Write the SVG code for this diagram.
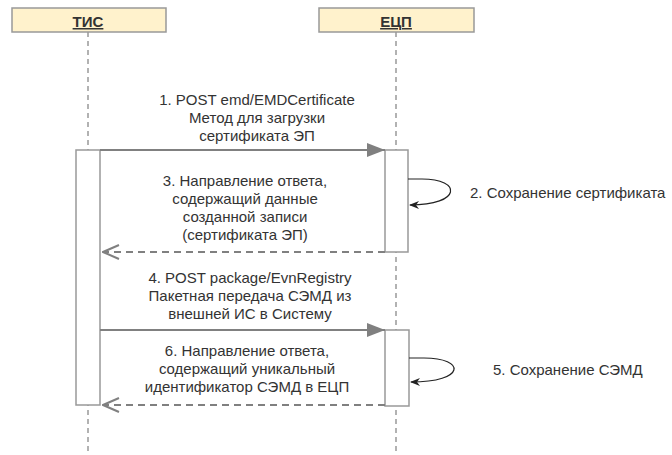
<svg xmlns="http://www.w3.org/2000/svg" width="672" height="455" viewBox="0 0 672 455">
<style>
.hdr{fill:#fff2cc;stroke:#999;stroke-width:1.5}
.htxt{font-family:"Liberation Sans",Arial,sans-serif;font-size:15px;font-weight:bold;fill:#333;text-anchor:middle;text-decoration:underline}
.life{stroke:#999;stroke-width:1.5;stroke-dasharray:5,4;fill:none}
.act{fill:#fff;stroke:#999;stroke-width:1.5}
.lbl{font-family:"Liberation Sans",Arial,sans-serif;font-size:15px;fill:#333;text-anchor:middle}
.lbl2{font-family:"Liberation Sans",Arial,sans-serif;font-size:15px;fill:#333}
.msg{stroke:#808080;stroke-width:2;fill:none}
.ret{stroke:#808080;stroke-width:2;fill:none;stroke-dasharray:7,5}
.self{stroke:#222;stroke-width:1.2;fill:none}
</style>
<defs>
<marker id="tri" markerWidth="18" markerHeight="14" refX="18" refY="7" orient="auto" markerUnits="userSpaceOnUse">
<path d="M0,0 L18,7 L0,14 Z" fill="#808080"/>
</marker>
<marker id="open" markerWidth="18" markerHeight="16" refX="17" refY="8" orient="auto" markerUnits="userSpaceOnUse">
<path d="M1,1 L17,8 L1,15" fill="none" stroke="#808080" stroke-width="2"/>
</marker>
<marker id="blk" markerWidth="10" markerHeight="8" refX="9" refY="4" orient="auto" markerUnits="userSpaceOnUse">
<path d="M0,0 L10,4 L0,8 L3,4 Z" fill="#222"/>
</marker>
</defs>
<g id="lifelines">
<line class="life" x1="88" y1="32" x2="88" y2="455"/>
<line class="life" x1="396" y1="32" x2="396" y2="455"/>
</g>
<g id="tis">
<rect class="hdr" x="12" y="8" width="154" height="24"/>
<text class="htxt" x="88" y="27">ТИС</text>
</g>
<g id="ecp">
<rect class="hdr" x="319" y="8" width="155" height="24"/>
<text class="htxt" x="396" y="27">ЕЦП</text>
</g>
<g id="tis-activation">
<rect class="act" x="76" y="150" width="24" height="255"/>
</g>
<g id="ecp-activation-1">
<rect class="act" x="385" y="150" width="23" height="102"/>
</g>
<g id="ecp-activation-2">
<rect class="act" x="385" y="330" width="24" height="76"/>
</g>
<g id="connectors">
<line class="msg" x1="100" y1="150" x2="385" y2="150" marker-end="url(#tri)"/>
<path class="self" d="M408,179 L422,179 C462,179 462,205 410,205" marker-end="url(#blk)"/>
<line class="ret" x1="385" y1="252" x2="103" y2="252" marker-end="url(#open)"/>
<line class="msg" x1="100" y1="330" x2="385" y2="330" marker-end="url(#tri)"/>
<path class="self" d="M409,358 L424,358 C466,358 466,382 411,382" marker-end="url(#blk)"/>
<line class="ret" x1="385" y1="405" x2="103" y2="405" marker-end="url(#open)"/>
</g>
<g id="labels">
<text class="lbl" x="257" y="105">1. POST emd/EMDCertificate</text>
<text class="lbl" x="257" y="123">Метод для загрузки</text>
<text class="lbl" x="257" y="141">сертификата ЭП</text>
<text class="lbl2" x="470" y="198">2. Сохранение сертификата</text>
<text class="lbl" x="245" y="186">3. Направление ответа,</text>
<text class="lbl" x="245" y="204">содержащий данные</text>
<text class="lbl" x="245" y="222">созданной записи</text>
<text class="lbl" x="245" y="240">(сертификата ЭП)</text>
<text class="lbl" x="250" y="283">4. POST package/EvnRegistry</text>
<text class="lbl" x="250" y="301">Пакетная передача СЭМД из</text>
<text class="lbl" x="250" y="319">внешней ИС в Систему</text>
<text class="lbl2" x="493" y="375">5. Сохранение СЭМД</text>
<text class="lbl" x="247" y="356">6. Направление ответа,</text>
<text class="lbl" x="247" y="374">содержащий уникальный</text>
<text class="lbl" x="247" y="392">идентификатор СЭМД в ЕЦП</text>
</g>
</svg>
